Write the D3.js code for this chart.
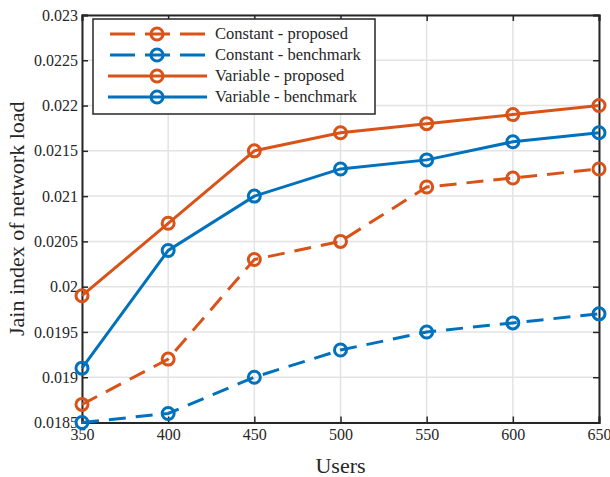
<!DOCTYPE html>
<html>
<head>
<meta charset="utf-8">
<script src="https://cdn.jsdelivr.net/npm/d3@7"></script>
<style>
  body { margin: 0; background: #fff; }
  svg text { font-family: "Liberation Serif", "DejaVu Serif", serif; fill: #262626; }
</style>
</head>
<body>
<div id="chart"></div>
<script>
// data
var users = [350, 400, 450, 500, 550, 600, 650];
var constProposed  = [0.0187, 0.0192, 0.0203, 0.0205, 0.0211, 0.0212, 0.0213];
var constBenchmark = [0.0185, 0.0186, 0.0190, 0.0193, 0.0195, 0.0196, 0.0197];
var varProposed    = [0.0199, 0.0207, 0.0215, 0.0217, 0.0218, 0.0219, 0.0220];
var varBenchmark   = [0.0191, 0.0204, 0.0210, 0.0213, 0.0214, 0.0216, 0.0217];
var yTicks = [0.0185, 0.019, 0.0195, 0.02, 0.0205, 0.021, 0.0215, 0.022, 0.0225, 0.023];
var xTicks = [350, 400, 450, 500, 550, 600, 650];

var orange = "#D95319", blue = "#0072BD";

var series = [
  { name: "Constant - proposed",  values: constProposed,  color: orange, dash: "17,10" },
  { name: "Constant - benchmark", values: constBenchmark, color: blue,   dash: "17,10" },
  { name: "Variable - proposed",  values: varProposed,    color: orange, dash: null },
  { name: "Variable - benchmark", values: varBenchmark,   color: blue,   dash: null }
];

var width = 610, height = 477;
var margin = { left: 82, right: 11, top: 15, bottom: 54.5 };

var x = d3.scaleLinear().domain([350, 650]).range([margin.left, width - margin.right]);
var y = d3.scaleLinear().domain([0.0185, 0.023]).range([height - margin.bottom, margin.top]);

var svg = d3.select("#chart").append("svg")
  .attr("width", width)
  .attr("height", height);

// grid
svg.append("g").selectAll("line.gx")
  .data(xTicks).enter().append("line")
  .attr("x1", d => x(d)).attr("x2", d => x(d))
  .attr("y1", y.range()[1]).attr("y2", y.range()[0])
  .attr("stroke", "#e3e3e3").attr("stroke-width", 1.5);
svg.append("g").selectAll("line.gy")
  .data(yTicks).enter().append("line")
  .attr("y1", d => y(d)).attr("y2", d => y(d))
  .attr("x1", x.range()[0]).attr("x2", x.range()[1])
  .attr("stroke", "#e3e3e3").attr("stroke-width", 1.5);

// axes (ticks inside, box all round)
var tickLen = 6;
var axisColor = "#262626";
var axisB = svg.append("g")
  .attr("transform", "translate(0," + y.range()[0] + ")")
  .call(d3.axisBottom(x).tickValues(xTicks).tickSize(-tickLen).tickPadding(6).tickFormat(d3.format("d")));
var axisT = svg.append("g")
  .attr("transform", "translate(0," + y.range()[1] + ")")
  .call(d3.axisTop(x).tickValues(xTicks).tickSize(-tickLen).tickFormat(""));
var axisL = svg.append("g")
  .attr("transform", "translate(" + x.range()[0] + ",0)")
  .call(d3.axisLeft(y).tickValues(yTicks).tickSize(-tickLen).tickPadding(4).tickFormat(d => String(+d.toFixed(4))));
var axisR = svg.append("g")
  .attr("transform", "translate(" + x.range()[1] + ",0)")
  .call(d3.axisRight(y).tickValues(yTicks).tickSize(-tickLen).tickFormat(""));

[axisB, axisT, axisL, axisR].forEach(function(g) {
  g.attr("font-family", "Liberation Serif, serif").attr("font-size", 16);
  g.select(".domain").attr("stroke", axisColor).attr("stroke-width", 2);
  g.selectAll(".tick line").attr("stroke", axisColor).attr("stroke-width", 1.5);
  g.selectAll(".tick text")
    .style("font-family", "'Liberation Serif', serif")
    .style("font-size", "16px")
    .attr("fill", axisColor);
});

// lines + markers
var line = d3.line()
  .x((d, i) => x(users[i]))
  .y(d => y(d));

series.forEach(function(s) {
  var g = svg.append("g");
  g.append("path")
    .datum(s.values)
    .attr("d", line)
    .attr("fill", "none")
    .attr("stroke", s.color)
    .attr("stroke-width", 3)
    .attr("stroke-dasharray", s.dash);
  g.selectAll("circle")
    .data(s.values).enter().append("circle")
    .attr("cx", (d, i) => x(users[i]))
    .attr("cy", d => y(d))
    .attr("r", 6)
    .attr("fill", "none")
    .attr("stroke", s.color)
    .attr("stroke-width", 3);
});

// axis labels
svg.append("text")
  .attr("x", (x.range()[0] + x.range()[1]) / 2)
  .attr("y", 473)
  .attr("text-anchor", "middle")
  .style("font-size", "22px")
  .text("Users");

svg.append("text")
  .attr("transform", "translate(24," + (y.range()[0] + y.range()[1]) / 2 + ") rotate(-90)")
  .attr("text-anchor", "middle")
  .style("font-size", "22px")
  .text("Jain index of network load");

// legend
var legend = svg.append("g");
legend.append("rect")
  .attr("x", 93).attr("y", 19)
  .attr("width", 282).attr("height", 95)
  .attr("fill", "#fff")
  .attr("stroke", "#262626")
  .attr("stroke-width", 1.5);

var rowY = d3.scalePoint().domain(series.map(s => s.name)).range([34, 97]);

series.forEach(function(s) {
  var ry = rowY(s.name);
  legend.append("line")
    .attr("x1", s.dash ? 110 : 108).attr("x2", 207)
    .attr("y1", ry).attr("y2", ry)
    .attr("stroke", s.color)
    .attr("stroke-width", 3)
    .attr("stroke-dasharray", s.dash ? "25,10" : null);
  legend.append("circle")
    .attr("cx", 157).attr("cy", ry).attr("r", 6)
    .attr("fill", "none")
    .attr("stroke", s.color)
    .attr("stroke-width", 3);
  legend.append("text")
    .attr("x", 215).attr("y", ry + 5)
    .style("font-size", "16.5px")
    .text(s.name);
});
</script>
</body>
</html>
